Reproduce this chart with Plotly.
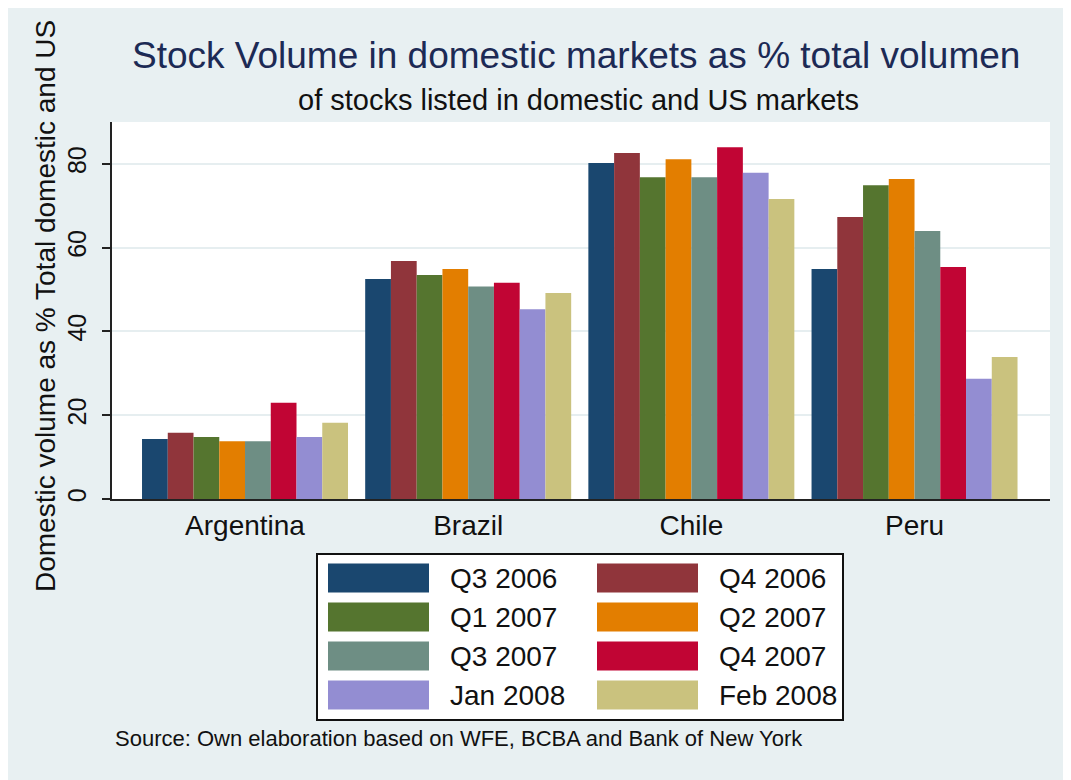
import plotly.graph_objects as go

countries = ["Argentina", "Brazil", "Chile", "Peru"]
periods = ["Q3 2006", "Q4 2006", "Q1 2007", "Q2 2007", "Q3 2007", "Q4 2007", "Jan 2008", "Feb 2008"]

q3_2006 = [14.3, 52.5, 80.2, 54.9]
q4_2006 = [15.8, 56.8, 82.6, 67.3]
q1_2007 = [14.8, 53.5, 76.8, 74.9]
q2_2007 = [13.8, 54.9, 81.1, 76.4]
q3_2007 = [13.8, 50.7, 76.8, 64.0]
q4_2007 = [23.0, 51.6, 84.0, 55.4]
jan_2008 = [14.8, 45.3, 77.9, 28.7]
feb_2008 = [18.2, 49.2, 71.6, 33.9]

series = [q3_2006, q4_2006, q1_2007, q2_2007, q3_2007, q4_2007, jan_2008, feb_2008]
colors = ["#1A476F", "#90353B", "#55752F", "#E37E00", "#6E8E84", "#C10534", "#938DD2", "#CAC27E"]

title_text = "Stock Volume in domestic markets as % total volumen"
subtitle_text = "of stocks listed in domestic and US markets"
ytitle_text = "Domestic volume as % Total domestic and US"
note_text = "Source: Own elaboration based on WFE, BCBA and Bank of New York"
y_ticks = [0, 20, 40, 60, 80]

# page body has an 8px margin: work in screen coordinates and shift
OFF = 8
W, H = 1068 - OFF, 780 - OFF
PL, PR, PT, PB = 112, 1050, 122, 499  # plot area in screen pixels
L, R, T, B = PL - OFF, W - (PR - OFF), PT - OFF, H - (PB - OFF)
PW, PH = W - L - R, H - T - B
BG = "#E8F0F2"
FONT = "Liberation Sans, Arial, sans-serif"


def px(x):
    return (x - PL) / PW


def py(y):
    return (PB - y) / PH


fig = go.Figure()
for name, vals, col in zip(periods, series, colors):
    fig.add_trace(go.Bar(x=countries, y=vals, name=name, marker_color=col,
                         marker_line_width=0, showlegend=False))

shapes = [
    dict(type="rect", xref="paper", yref="paper", x0=px(OFF), x1=px(1068), y0=py(800), y1=py(OFF),
         fillcolor=BG, line_width=0, layer="below"),
    dict(type="rect", xref="paper", yref="paper", x0=0, x1=1, y0=0, y1=1,
         fillcolor="white", line_width=0, layer="below"),
    # legend box
    dict(type="rect", xref="paper", yref="paper", x0=px(317), x1=px(843), y0=py(720), y1=py(554),
         fillcolor="white", line=dict(color="#111111", width=2), layer="above"),
]
annotations = []
row_y = [578, 617, 656, 695]
col_x = [328, 597]
for i, (name, col) in enumerate(zip(periods, colors)):
    r, c = divmod(i, 2)
    x0 = col_x[c]
    yc = row_y[r]
    shapes.append(dict(type="rect", xref="paper", yref="paper", x0=px(x0), x1=px(x0 + 101),
                       y0=py(yc + 14.5), y1=py(yc - 14.5), fillcolor=col, line_width=0, layer="above"))
    annotations.append(dict(text=name, xref="paper", yref="paper", x=px(x0 + 120), y=py(yc),
                            xanchor="left", yanchor="middle", showarrow=False,
                            font=dict(family=FONT, size=28, color="#111111")))

annotations += [
    dict(text=title_text, xref="paper", yref="paper", x=px(576), y=py(56), xanchor="center",
         yanchor="middle", showarrow=False, font=dict(family=FONT, size=37, color="#1C2A55")),
    dict(text=subtitle_text, xref="paper", yref="paper", x=px(578), y=py(100), xanchor="center",
         yanchor="middle", showarrow=False, font=dict(family=FONT, size=29, color="#111111")),
    dict(text=ytitle_text, xref="paper", yref="paper", x=px(45), y=py(306), xanchor="center",
         yanchor="middle", textangle=-90, showarrow=False,
         font=dict(family=FONT, size=28, color="#111111")),
    dict(text=note_text, xref="paper", yref="paper", x=px(113), y=py(738), xanchor="left",
         yanchor="middle", showarrow=False, font=dict(family=FONT, size=22, color="#111111")),
]

fig.update_layout(
    width=W, height=H,
    margin=dict(l=L, r=R, t=T, b=B, autoexpand=False),
    paper_bgcolor="white",
    plot_bgcolor="rgba(0,0,0,0)",
    barmode="group",
    bargap=0.077,
    bargroupgap=0,
    shapes=shapes,
    annotations=annotations,
    font=dict(family=FONT, color="#111111"),
    xaxis=dict(type="category", range=[-0.596, 3.607], showgrid=False, ticks="",
               showline=True, linecolor="#222222", linewidth=2,
               tickfont=dict(family=FONT, size=28, color="#111111")),
    yaxis=dict(range=[0, 90], tickvals=y_ticks, ticktext=[str(v) for v in y_ticks],
               showgrid=True, gridcolor="#E6EEF0", gridwidth=2, zeroline=False,
               showline=True, linecolor="#222222", linewidth=2,
               ticks="outside", ticklen=8, tickwidth=2, tickcolor="#222222",
               tickangle=-90, ticklabelstandoff=6,
               tickfont=dict(family=FONT, size=25, color="#111111")),
)

fig.write_html("out.html")
